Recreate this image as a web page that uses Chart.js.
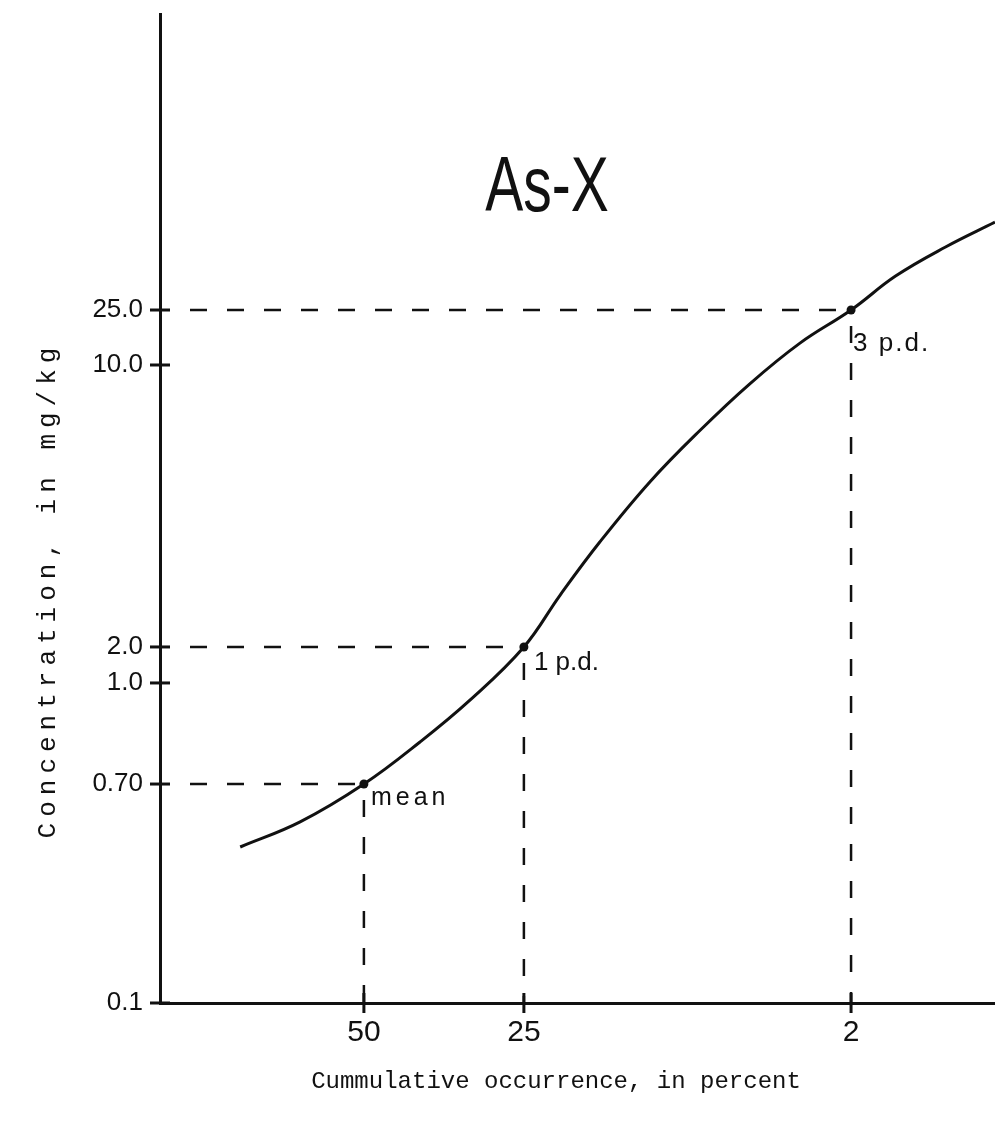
<!DOCTYPE html>
<html>
<head>
<meta charset="utf-8">
<title>As-X</title>
<script src="https://cdn.jsdelivr.net/npm/chart.js@4.4.1/dist/chart.umd.min.js"></script>
<style>
  html, body { margin: 0; padding: 0; background: #fff; }
  canvas { display: block; }
</style>
</head>
<body>
<canvas id="chart" width="995" height="1130"></canvas>
<script>
// curve: cumulative occurrence (%) and concentration (mg/kg)
const curvePct  = [69.9, 60.6, 50, 40.65, 32.7, 25, 20.4, 16.0, 11.4, 7.8, 5.2, 3.3, 2, 1.25, 0.71, 0.39];
const curveConc = [0.40, 0.50, 0.70, 0.812, 0.942, 2.0, 2.69, 3.64, 5.13, 6.90, 8.97, 14.4, 25.0, 44.0, 71.4, 108];

// marked points on the curve
const markPct    = [50, 25, 2];
const markConc   = [0.70, 2.0, 25.0];
const markLabels = ['mean', '1 p.d.', '3 p.d.'];

// tick labels
const xTickPct    = [50, 25, 2];
const xTickLabels = ['50', '25', '2'];
const yTickConc   = [0.1, 0.70, 1.0, 2.0, 10.0, 25.0];
const yTickLabels = ['0.1', '0.70', '1.0', '2.0', '10.0', '25.0'];

const xRangePct = [80.5, 0.39];

const ink = '#111';

// x axis is a normal probability scale -> work in z units
function invNorm(p) {
    const a = [-3.969683028665376e+01, 2.209460984245205e+02, -2.759285104469687e+02, 1.383577518672690e+02, -3.066479806614716e+01, 2.506628277459239e+00];
    const b = [-5.447609879822406e+01, 1.615858368580409e+02, -1.556989798598866e+02, 6.680131188771972e+01, -1.328068155288572e+01];
    const c = [-7.784894002430293e-03, -3.223964580411365e-01, -2.400758277161838e+00, -2.549732539343734e+00, 4.374664141464968e+00, 2.938163982698783e+00];
    const d = [7.784695709041462e-03, 3.224671290700398e-01, 2.445134137142996e+00, 3.754408661907416e+00];
    const pl = 0.02425;
    let q, r;
    if (p < pl) {
        q = Math.sqrt(-2 * Math.log(p));
        return (((((c[0]*q+c[1])*q+c[2])*q+c[3])*q+c[4])*q+c[5]) / ((((d[0]*q+d[1])*q+d[2])*q+d[3])*q+1);
    }
    if (p > 1 - pl) {
        q = Math.sqrt(-2 * Math.log(1 - p));
        return -(((((c[0]*q+c[1])*q+c[2])*q+c[3])*q+c[4])*q+c[5]) / ((((d[0]*q+d[1])*q+d[2])*q+d[3])*q+1);
    }
    q = p - 0.5;
    r = q * q;
    return (((((a[0]*r+a[1])*r+a[2])*r+a[3])*r+a[4])*r+a[5])*q / (((((b[0]*r+b[1])*r+b[2])*r+b[3])*r+b[4])*r+1);
}
function xPos(pct) {
    return invNorm(1 - pct / 100);
}

// the hand drawn y axis is stretched differently between each labelled value,
// so map log(conc) piecewise onto the fraction of the axis where each label sits
const yStops = [0, 0.2214, 0.3236, 0.3600, 0.6451, 0.7007];
function yPos(conc) {
    const lc = Math.log10(conc);
    const lt = yTickConc.map(v => Math.log10(v));
    let i = 0;
    while (i < lt.length - 2 && lc > lt[i + 1]) i++;
    const t = (lc - lt[i]) / (lt[i + 1] - lt[i]);
    return yStops[i] + t * (yStops[i + 1] - yStops[i]);
}

const curveData = curvePct.map((p, i) => ({ x: xPos(p), y: yPos(curveConc[i]) }));
const markData  = markPct.map((p, i) => ({ x: xPos(p), y: yPos(markConc[i]) }));

// dashed guides, tick marks crossing the axes, labels and titles
const overlay = {
    id: 'overlay',
    beforeDatasetsDraw(chart) {
        const ctx = chart.ctx;
        const xs = chart.scales.x, ys = chart.scales.y;
        const area = chart.chartArea;
        ctx.save();
        ctx.strokeStyle = ink;
        ctx.lineWidth = 2.5;
        ctx.setLineDash([17, 20]);
        markData.forEach(m => {
            const px = xs.getPixelForValue(m.x);
            const py = ys.getPixelForValue(m.y);
            ctx.beginPath();
            ctx.moveTo(area.left + 30, py);
            ctx.lineTo(px, py);
            ctx.stroke();
            ctx.beginPath();
            ctx.moveTo(px, py + 16);
            ctx.lineTo(px, area.bottom);
            ctx.stroke();
        });
        ctx.restore();
    },
    afterDraw(chart) {
        const ctx = chart.ctx;
        const xs = chart.scales.x, ys = chart.scales.y;
        const area = chart.chartArea;
        ctx.save();
        ctx.strokeStyle = ink;
        ctx.fillStyle = ink;
        ctx.lineWidth = 3;
        ctx.setLineDash([]);
        xs.ticks.forEach(t => {
            const px = xs.getPixelForValue(t.value);
            ctx.beginPath();
            ctx.moveTo(px, area.bottom - 10);
            ctx.lineTo(px, area.bottom + 10);
            ctx.stroke();
        });
        ys.ticks.forEach(t => {
            const py = ys.getPixelForValue(t.value);
            ctx.beginPath();
            ctx.moveTo(area.left - 10, py);
            ctx.lineTo(area.left + 10, py);
            ctx.stroke();
        });

        // point labels
        ctx.textAlign = 'left';
        ctx.textBaseline = 'alphabetic';
        const labelStyle = [
            { font: '25px "Liberation Sans"', spacing: '4px', dx: 7, dy: 21 },
            { font: '26px "Liberation Sans"', spacing: '0px', dx: 10, dy: 23 },
            { font: '26px "Liberation Sans"', spacing: '2px', dx: 2, dy: 41 }
        ];
        markData.forEach((m, i) => {
            const px = xs.getPixelForValue(m.x);
            const py = ys.getPixelForValue(m.y);
            ctx.font = labelStyle[i].font;
            ctx.letterSpacing = labelStyle[i].spacing;
            ctx.fillText(markLabels[i], px + labelStyle[i].dx, py + labelStyle[i].dy);
        });
        ctx.letterSpacing = '0px';

        // big title inside the plot
        ctx.save();
        ctx.translate(547, 190);
        ctx.scale(0.74, 1);
        ctx.font = '77px "Liberation Sans"';
        ctx.textAlign = 'center';
        ctx.textBaseline = 'middle';
        ctx.fillText('As-X', 0, 0);
        ctx.restore();

        // axis titles (typewriter)
        ctx.font = '24px "Liberation Mono"';
        ctx.textAlign = 'center';
        ctx.textBaseline = 'middle';
        ctx.fillText('Cummulative occurrence, in percent', 556, 1082);

        ctx.save();
        ctx.translate(48, 590);
        ctx.rotate(-Math.PI / 2);
        ctx.font = '26px "Liberation Mono"';
        ctx.letterSpacing = '6px';
        ctx.fillText('Concentration, in mg/kg', 0, 0);
        ctx.restore();
        ctx.restore();
    }
};

const chart = new Chart(document.getElementById('chart').getContext('2d'), {
    type: 'line',
    data: {
        datasets: [
            {
                label: 'As-X',
                data: curveData,
                borderColor: ink,
                borderWidth: 3,
                pointRadius: 0,
                tension: 0.4,
                fill: false,
                clip: false
            },
            {
                label: 'marks',
                data: markData,
                showLine: false,
                pointRadius: 4.5,
                pointBackgroundColor: ink,
                pointBorderColor: ink,
                pointBorderWidth: 0
            }
        ]
    },
    options: {
        responsive: false,
        animation: false,
        events: [],
        layout: { autoPadding: false, padding: { top: 14, right: 0, bottom: 0, left: 0 } },
        plugins: {
            legend: { display: false },
            tooltip: { enabled: false }
        },
        scales: {
            x: {
                type: 'linear',
                min: xPos(xRangePct[0]),
                max: xPos(xRangePct[1]),
                grid: { display: false, drawTicks: false },
                border: { display: true, color: ink, width: 3 },
                ticks: {
                    autoSkip: false,
                    maxRotation: 0,
                    padding: 12,
                    color: ink,
                    font: { family: 'Liberation Sans', size: 30 },
                    callback: (v, i) => xTickLabels[i]
                },
                afterBuildTicks: s => { s.ticks = xTickPct.map(p => ({ value: xPos(p) })); },
                afterFit: s => { s.height = 127; s.paddingLeft = 0; s.paddingRight = 0; }
            },
            y: {
                type: 'linear',
                min: 0,
                max: 1,
                grid: { display: false, drawTicks: false },
                border: { display: true, color: ink, width: 3 },
                ticks: {
                    autoSkip: false,
                    padding: 17,
                    color: ink,
                    font: { family: 'Liberation Sans', size: 26 },
                    callback: (v, i) => yTickLabels[i]
                },
                afterBuildTicks: s => { s.ticks = yTickConc.map(c => ({ value: yPos(c) })); },
                afterFit: s => { s.width = 160; s.paddingTop = 0; s.paddingBottom = 0; }
            }
        }
    },
    plugins: [overlay]
});
</script>
</body>
</html>
